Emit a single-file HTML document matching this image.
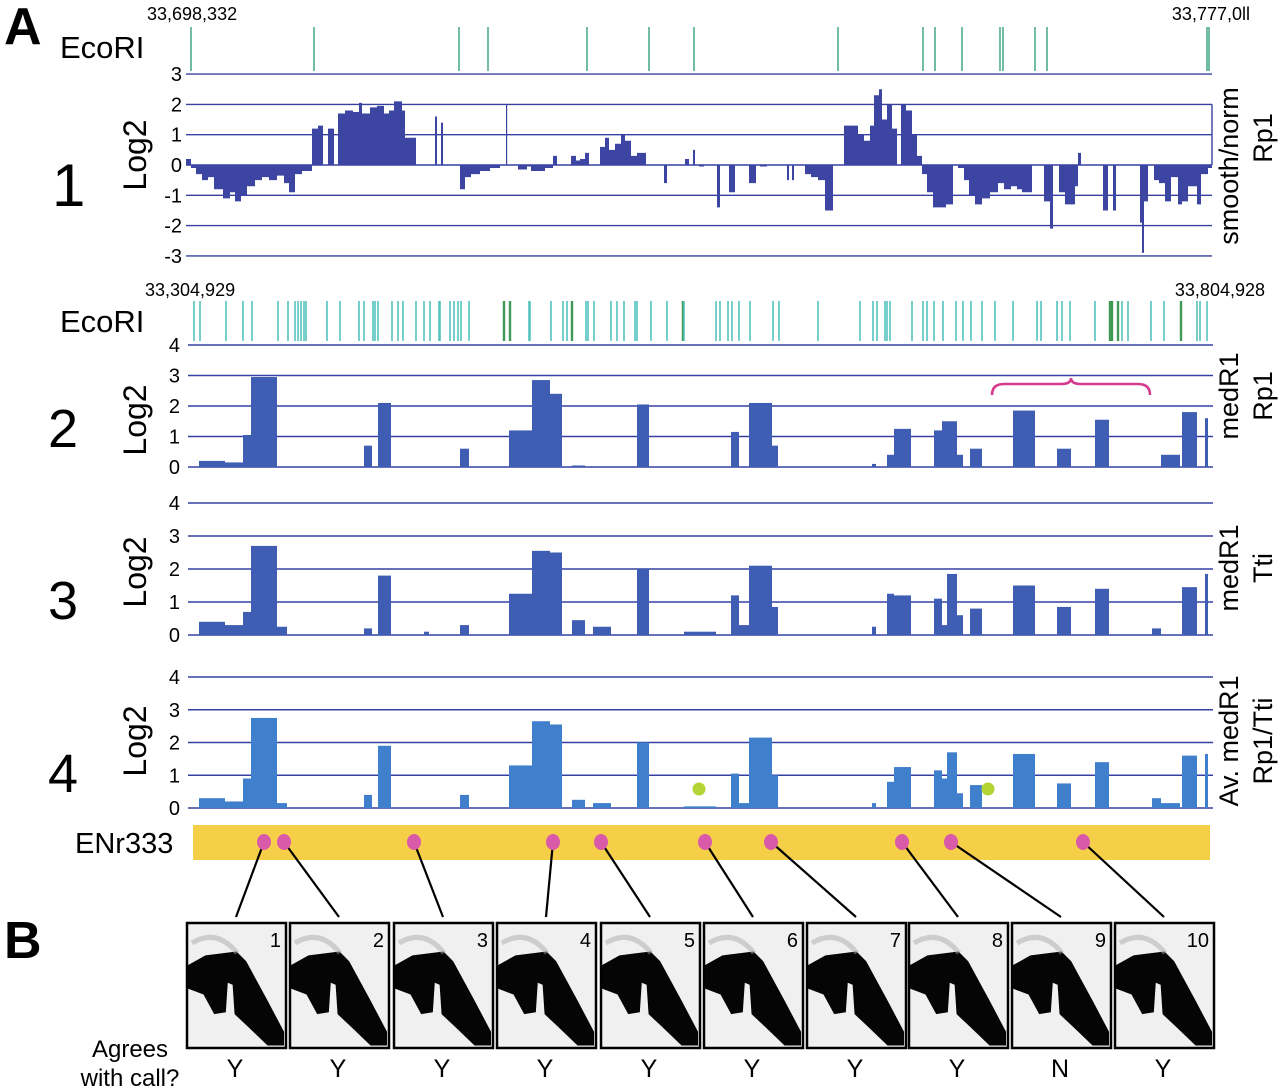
<!DOCTYPE html>
<html><head><meta charset="utf-8"><style>
html,body{margin:0;padding:0;background:#fff;}
svg{display:block;font-family:"Liberation Sans",Arial,sans-serif;}
</style></head><body>
<svg id="fig" width="1280" height="1092" viewBox="0 0 1280 1092" xmlns="http://www.w3.org/2000/svg">
<g id="static">
<text x="4" y="44" font-size="52" font-weight="bold">A</text>
<text x="4" y="958" font-size="52" font-weight="bold">B</text>
<text x="147" y="20" font-size="18">33,698,332</text>
<text x="1250" y="20" font-size="18" text-anchor="end">33,777,0ll</text>
<text x="60" y="58" font-size="31">EcoRI</text>
<text x="145" y="296" font-size="18">33,304,929</text>
<text x="1265" y="296" font-size="18" text-anchor="end">33,804,928</text>
<text x="60" y="332" font-size="31">EcoRI</text>
<text x="52" y="206" font-size="60">1</text>
<text x="48" y="447" font-size="54">2</text>
<text x="48" y="619" font-size="54">3</text>
<text x="48" y="792" font-size="54">4</text>
<text transform="translate(146,155) rotate(-90)" font-size="32" text-anchor="middle">Log2</text>
<text transform="translate(146,420) rotate(-90)" font-size="32" text-anchor="middle">Log2</text>
<text transform="translate(146,572) rotate(-90)" font-size="32" text-anchor="middle">Log2</text>
<text transform="translate(146,741) rotate(-90)" font-size="32" text-anchor="middle">Log2</text>
<text transform="translate(1238,166) rotate(-90)" font-size="27" text-anchor="middle">smooth/norm</text>
<text transform="translate(1272,138) rotate(-90)" font-size="27" text-anchor="middle">Rp1</text>
<text transform="translate(1238,396) rotate(-90)" font-size="27" text-anchor="middle">medR1</text>
<text transform="translate(1272,396) rotate(-90)" font-size="27" text-anchor="middle">Rp1</text>
<text transform="translate(1238,568) rotate(-90)" font-size="27" text-anchor="middle">medR1</text>
<text transform="translate(1272,568) rotate(-90)" font-size="27" text-anchor="middle">Tti</text>
<text transform="translate(1238,741) rotate(-90)" font-size="27" text-anchor="middle">Av. medR1</text>
<text transform="translate(1272,741) rotate(-90)" font-size="27" text-anchor="middle">Rp1/Tti</text>
<text x="75" y="853" font-size="29">ENr333</text>
<rect x="193" y="825" width="1017" height="35" fill="#f6cf48"/>
<text x="130" y="1057" font-size="24" text-anchor="middle">Agrees</text>
<text x="130" y="1086" font-size="24" text-anchor="middle">with call?</text>
</g>
<g id="dyn"></g>
</svg>
<script>
// ---- Panel 1: smoothed/normalized Rp1 (bins of ~74 bp from region start) ----
const p1Starts = [34,39,44,50,56,62,71,78,83,89,95,103,110,117,125,132,137,143,150,160,166,171,176,182,186,193,201,207,210,218,225,232,237,242,250,253,264,283,285,289,291,308,313,319,328,338,348,354,355,366,375,379,393,401,405,419,424,428,433,437,448,453,457,463,469,473,479,485,494,512,515,533,537,541,543,547,552,565,568,577,583,597,604,608,615,635,637,640,642,653,659,666,673,681,692,700,706,712,718,722,727,730,735,740,745,749,754,760,765,770,775,781,794,801,806,812,817,823,830,838,846,852,859,865,870,880,892,898,901,907,913,923,926,929,951,956,961,964,988,990,992,996,1002,1007,1013,1019,1026,1030,1036,1045,1049,1056];
const p1Values = [0.2,-0.1,-0.3,-0.5,-0.4,-0.8,-1.1,-0.9,-1.2,-1.0,-0.7,-0.5,-0.4,-0.5,-0.35,-0.6,-0.9,-0.3,-0.2,1.2,1.3,0,1.2,0,1.7,1.8,1.75,2.05,1.7,1.9,1.95,1.7,1.8,2.1,1.8,0.9,0,1.6,0,1.4,0,-0.8,-0.4,-0.3,-0.2,-0.1,0,2.0,0,-0.15,-0.05,-0.2,-0.1,0.3,0,0.3,0.15,0.2,0.4,0,0.6,0.9,0.5,0.7,1.0,0.8,0.3,0.4,0,-0.6,0,0.2,0,0.5,0,-0.05,0,-1.4,0,-0.9,0,-0.6,0,-0.05,0,-0.5,0,-0.5,0,-0.3,-0.4,-0.5,-1.5,0,1.3,1.3,1.0,0.8,1.3,2.3,2.5,1.5,2.0,1.2,0,2.0,1.8,1.0,0.3,-0.3,-0.9,-1.4,-1.3,0,-0.1,-0.5,-1.0,-1.3,-1.1,-0.9,-0.6,-0.8,-0.7,-0.8,-0.9,0,-1.2,-2.1,0,-0.9,-1.3,-0.7,0.4,0,-1.5,0,-1.5,0,-1.9,-2.9,-1.2,0,-0.5,-0.6,-1.2,-0.4,-1.3,-1.2,-0.7,-1.3,-0.3,-0.1];
const p1End = 1060;
const p1Ticks = [3,2,1,0,-1,-2,-3];
const ecori1 = [39,162,307,336,435,497,542,686,771,783,810,848,851,883,895,1055,1057];

// ---- Panels 2-4: EcoRI fragment medians (bins of ~488 bp) ----
const segStart = [11,37,55,63,89,176,190,236,272,321,344,362,384,405,449,496,543,551,561,584,684,699,706,746,754,759,769,782,825,869,907,964,973,994,1017];
const segEnd   = [37,55,63,89,99,184,203,241,281,344,362,374,397,423,461,528,551,561,584,590,688,706,723,754,759,769,775,794,847,883,921,973,992,1009,1020];
const p2Values = [0.2,0.15,1.05,2.95,0,0.7,2.1,0,0.6,1.2,2.85,2.4,0.05,0,2.05,0,1.15,0,2.1,0.7,0.1,0.4,1.25,1.2,1.5,1.5,0.4,0.6,1.85,0.6,1.55,0,0.4,1.8,1.6];
const p3Values = [0.4,0.3,0.7,2.7,0.25,0.2,1.8,0.1,0.3,1.25,2.55,2.5,0.45,0.25,2.0,0.1,1.2,0.3,2.1,0.85,0.25,1.25,1.2,1.1,0.3,1.85,0.6,0.8,1.5,0.85,1.4,0.2,0,1.45,1.85];
const p4Values = [0.3,0.2,0.9,2.75,0.15,0.4,1.9,0,0.4,1.3,2.65,2.55,0.25,0.15,2.0,0.05,1.05,0.15,2.15,1.0,0.15,0.8,1.25,1.15,0.9,1.7,0.45,0.7,1.65,0.75,1.4,0.3,0.15,1.6,1.65];
const pTicks = [4,3,2,1,0];
const ecori2 = [6,12,38,55,64,90,100,107,110,113,116,118,139,152,171,176,185,187,190,204,210,215,228,236,242,251,252,262,266,270,273,281,316,322,341,342,363,375,379,384,398,400,406,423,429,436,447,449,463,479,495,496,528,532,540,544,551,562,585,591,630,672,685,689,697,699,702,724,735,739,746,755,768,775,783,794,807,825,849,853,869,874,882,907,922,924,930,934,940,963,976,993,1009,1012,1019];
const ecori2Dark = [316,322,384,495,922,924,930,993];
const greenDotPos = [511,800];
const greenDotVal = [0.58,0.58];
const bracePos = [804,962];

// ---- ENr333 tested sites and blots ----
const sitePos = [76,96,226,365,413,517,583,714,763,895];
const blotNames = ["1","2","3","4","5","6","7","8","9","10"];
const calls = ["Y","Y","Y","Y","Y","Y","Y","Y","N","Y"];

const NS = "http://www.w3.org/2000/svg";
const dyn = document.getElementById('dyn');
function mk(tag, attrs, parent){
  const e = document.createElementNS(NS, tag);
  for (const k in attrs) e.setAttribute(k, attrs[k]);
  (parent||dyn).appendChild(e);
  return e;
}
const x1 = b => 152 + b;
const y1 = v => 165 - v * 30.3;
const x2 = b => 188 + b;
const panels = [
  {vals: p2Values, y0: 467, k: 30.5, color: "#3f5db3", name: "medr1-rp1"},
  {vals: p3Values, y0: 635, k: 33.0, color: "#3f5db3", name: "medr1-tti"},
  {vals: p4Values, y0: 808, k: 32.75, color: "#3f7fcc", name: "av-medr1"}
];
const GRID = "#3540a0";

ecori1.forEach((p,i)=>{
  const l = mk('line',{x1:x1(p),x2:x1(p),y1:27,y2:71,stroke:"#4fae8e","stroke-width":1.6});
  
  
});
p1Ticks.forEach(t=>{
  const y = y1(t);
  const l = mk('line',{x1:186,x2:1212,y1:y,y2:y,stroke:GRID,"stroke-width":1.4});
  
  
  const tx = mk('text',{x:182,y:y+7,"font-size":20,"text-anchor":"end"});
  tx.textContent = String(t);
  
  
});
mk('line',{x1:1212,x2:1212,y1:y1(2),y2:y1(0),stroke:GRID,"stroke-width":1.4});
let d = "";
for (let i=0;i<p1Starts.length;i++){
  const s = p1Starts[i], e = (i+1<p1Starts.length)? p1Starts[i+1] : p1End;
  const v = p1Values[i];
  if (v===0) continue;
  const w = Math.max(e-s, 1.2);
  const ya = Math.min(y1(v), y1(0)), yb = Math.max(y1(v), y1(0));
  d += `M${x1(s)},${ya}h${w}V${yb}h${-w}Z`;
}
const p1path = mk('path',{d:d,fill:"#3d45a3"});



ecori2.forEach(p=>{
  const dark = ecori2Dark.indexOf(p)>=0;
  const l = mk('line',{x1:x2(p),x2:x2(p),y1:301,y2:341,stroke: dark?"#3f9a55":"#55c3c0","stroke-width": dark?2.4:1.6});
  
  
});
panels.forEach((P,pi)=>{
  const yv = v => P.y0 - v*P.k;
  pTicks.forEach(t=>{
    const y = yv(t);
    const l = mk('line',{x1:188,x2:1213,y1:y,y2:y,stroke:GRID,"stroke-width":1.4});
    
    
    const tx = mk('text',{x:180,y:y+7,"font-size":20,"text-anchor":"end"});
    tx.textContent = String(t);
    
    
  });
  P.vals.forEach((v,i)=>{
    if (v<=0) return;
    const r = mk('rect',{x:x2(segStart[i]),y:yv(v),width:segEnd[i]-segStart[i],height:v*P.k,fill:P.color});
    
    
  });
});
greenDotPos.forEach((p,i)=>{
  const c = mk('circle',{cx:x2(p),cy:808-greenDotVal[i]*32.75,r:6.5,fill:"#b4d436"});
  
  
});
(function(){
  const a = x2(bracePos[0]), b = x2(bracePos[1]), m = (a+b)/2;
  const br = mk('path',{d:`M${a},395 Q${a},384 ${a+12},384 L${m-10},384 Q${m},384 ${m},378 Q${m},384 ${m+10},384 L${b-12},384 Q${b},384 ${b},395`,fill:"none",stroke:"#d63a8e","stroke-width":2.6});
  
  
})();

const boxX = [187,290,394,497,601,704,807,909,1012,1115];
const blob = "M0,42 L18,32 L50,28 L60,38 L82,78 L99,110 L99,124 L82,124 L62,105 L48,92 L46,62 L41,60 L39,90 L27,92 L16,72 L0,66 Z";
sitePos.forEach((p,i)=>{
  const bx = boxX[i];
  const ln = mk('line',{x1:x2(p),y1:842,x2:bx+49,y2:917,stroke:"#000","stroke-width":2.2});
  
  
  const dot = mk('ellipse',{cx:x2(p),cy:842,rx:7,ry:8,fill:"#d95aa8"});
  
  
  const g = mk('g',{});
  
  
  mk('rect',{x:bx,y:923,width:99,height:125,fill:"#f0f0f0",stroke:"#000","stroke-width":2.5},g);
  mk('path',{d:blob,fill:"#050505",transform:`translate(${bx+1},${924}) scale(0.97,0.98)`},g);
  mk('path',{d:"M5,20 Q30,5 50,30",fill:"none",stroke:"#aaa","stroke-width":5,transform:`translate(${bx},${923})`,opacity:0.5},g);
  const n = mk('text',{x:bx+94,y:947,"font-size":20,"text-anchor":"end"},g);
  n.textContent = blotNames[i];
  
  
  const c = mk('text',{x:bx+48,y:1077,"font-size":25,"text-anchor":"middle"});
  c.textContent = calls[i];
  
  
});
</script>
</body></html>
